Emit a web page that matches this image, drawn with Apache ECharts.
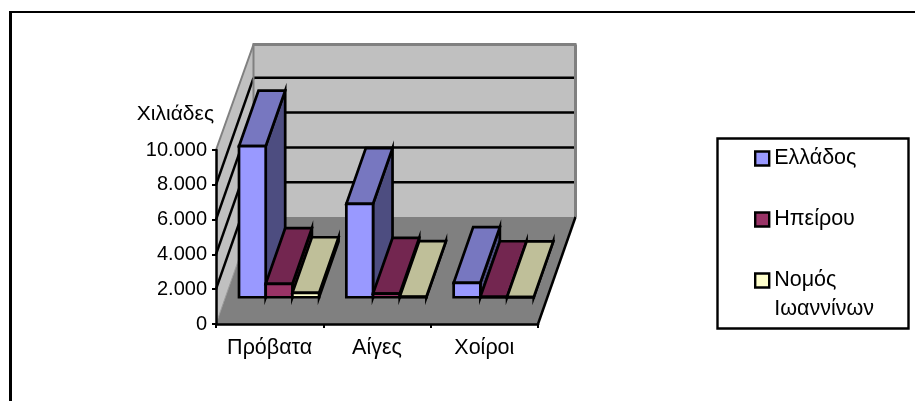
<!DOCTYPE html>
<html>
<head>
<meta charset="utf-8">
<style>html,body{margin:0;padding:0;background:#fff}#c{width:915px;height:401px}</style>
<script src="https://cdn.jsdelivr.net/npm/echarts@6/dist/echarts.min.js"></script>
</head>
<body>
<div id="c"></div>
<script>
const categories = ['Πρόβατα', 'Αίγες', 'Χοίροι'];
const seriesNames = ['Ελλάδος', 'Ηπείρου', 'Νομός Ιωαννίνων'];
const ellados = [8680, 5370, 830];
const ipeirou = [770, 210, 20];
const ioannina = [250, 30, 10];
const yTicks = [0, 2000, 4000, 6000, 8000, 10000];
const yTitle = 'Χιλιάδες';

const FONT = '"Liberation Sans", Arial, sans-serif';
const frontColors = ['#9999ff', '#993366', '#ffffcc'];
const topColors = ['#7777c0', '#732650', '#bfbf99'];
const sideColors = ['#4d4d80', '#4d1a33', '#808066'];
const DX = 37.5, DY = 107;
const barCount = 3, catGap = 0.127, barFrontDepth = 0.25, barDepth = 0.52;

const chart = echarts.init(document.getElementById('c'), null, {renderer: 'canvas'});

function poly(points, fill, stroke, lw) {
  return {type: 'polygon', shape: {points},
    style: {fill: fill || 'none', stroke: stroke || 'none', lineWidth: lw || 0, lineJoin: 'miter'}};
}
function line(a, b, stroke, lw) {
  return {type: 'line', shape: {x1: a[0], y1: a[1], x2: b[0], y2: b[1]},
    style: {stroke, lineWidth: lw}};
}

// walls, floor and gridlines
function renderBox(params, api) {
  const o = api.coord([0, 0]);
  const step = api.size([1, 0])[0];
  const left = o[0] - step / 2, base = o[1];
  const right = left + step * categories.length;
  const topY = api.coord([0, yTicks[yTicks.length - 1]])[1];
  const wallTop = topY - DY + 1.5;
  const kids = [];
  kids.push(poly([[left, base], [left + DX, base - DY], [left + DX, wallTop], [left, topY]], '#c0c0c0'));
  kids.push(poly([[left + DX, base - DY], [right + DX, base - DY], [right + DX, wallTop], [left + DX, wallTop]], '#c0c0c0'));
  yTicks.slice(1, -1).forEach(t => {
    const y = api.coord([0, t])[1];
    kids.push(line([left, y], [left + DX, y - DY], '#000', 2.5));
    kids.push(line([left + DX, y - DY], [right + DX, y - DY], '#000', 2.5));
  });
  kids.push(line([left, topY], [left + DX, wallTop], '#808080', 2));
  kids.push(line([left + DX - 1, wallTop], [right + DX + 1, wallTop], '#808080', 3));
  kids.push(line([right + DX, wallTop], [right + DX, base - DY], '#808080', 3));
  kids.push(line([left + DX, wallTop], [left + DX, base - DY], '#808080', 2));
  kids.push(poly([[left, base], [right, base], [right + DX, base - DY], [left + DX, base - DY]], '#808080'));
  kids.push(line([left, base], [left + DX, base - DY], '#9a9a9a', 1));
  kids.push(line([right, base], [right + DX, base - DY], '#000', 2.5));
  return {type: 'group', children: kids};
}

function renderBar(sIdx) {
  return function (params, api) {
    const c = api.value(0), v = api.value(1);
    const step = api.size([1, 0])[0];
    const catLeft = api.coord([c, 0])[0] - step / 2;
    const base = api.coord([c, 0])[1];
    const bw = step * (1 - 2 * catGap) / barCount;
    const fdx = DX * barFrontDepth, fdy = DY * barFrontDepth;
    const x0 = catLeft + step * catGap + bw * sIdx + fdx;
    const x1 = x0 + bw;
    const y0 = base - fdy;
    const y1 = api.coord([c, v])[1] - fdy;
    const dx = DX * barDepth, dy = DY * barDepth;
    return {type: 'group', children: [
      poly([[x1, y0], [x1 + dx, y0 - dy], [x1 + dx, y1 - dy], [x1, y1]], sideColors[sIdx], '#000', 2.7),
      poly([[x0, y1], [x1, y1], [x1 + dx, y1 - dy], [x0 + dx, y1 - dy]], topColors[sIdx], '#000', 2.7),
      poly([[x0, y0], [x1, y0], [x1, y1], [x0, y1]], frontColors[sIdx], '#000', 2.7)
    ]};
  };
}

function makeBarSeries(name, values, sIdx) {
  return {
    name, type: 'custom', coordinateSystem: 'cartesian2d', clip: false,
    renderItem: renderBar(sIdx), encode: {x: 0, y: 1}, z: 5 + sIdx,
    itemStyle: {color: frontColors[sIdx], borderColor: '#000', borderWidth: 2},
    data: values.map((v, i) => [i, v])
  };
}

chart.setOption({
  animation: false,
  backgroundColor: '#fff',
  textStyle: {fontFamily: FONT},
  graphic: [
    {type: 'line', z: -10, silent: true, shape: {x1: 9, y1: 12, x2: 915, y2: 12},
      style: {stroke: '#000', lineWidth: 2}},
    {type: 'line', z: -10, silent: true, shape: {x1: 10.5, y1: 11, x2: 10.5, y2: 401},
      style: {stroke: '#000', lineWidth: 3}},
    {type: 'rect', z: 1, silent: true, shape: {x: 717.5, y: 138.5, width: 191, height: 190},
      style: {fill: '#fff', stroke: '#000', lineWidth: 2.4}}
  ],
  grid: {left: 216, right: 377, top: 150, bottom: 77, containLabel: false},
  xAxis: {
    type: 'category', data: categories, boundaryGap: true, z: 20,
    axisLine: {show: true, onZero: false, lineStyle: {color: '#000', width: 2.5}},
    axisTick: {show: true, alignWithLabel: false, length: 4, lineStyle: {color: '#000', width: 2}},
    axisLabel: {color: '#000', fontSize: 21.5, fontFamily: FONT, margin: 13, interval: 0, hideOverlap: false},
    splitLine: {show: false}
  },
  yAxis: {
    type: 'value', min: 0, max: 10000, interval: 2000, z: 20,
    name: yTitle, nameLocation: 'end', nameGap: 25,
    nameTextStyle: {color: '#000', fontSize: 21, fontFamily: FONT, align: 'right', padding: [0, 2, 0, 0]},
    axisLine: {show: true, lineStyle: {color: '#000', width: 2.5}},
    axisTick: {show: true, length: 4, lineStyle: {color: '#000', width: 2}},
    axisLabel: {color: '#000', fontSize: 20, fontFamily: FONT, margin: 9,
      formatter: v => String(v).replace(/\B(?=(\d{3})+$)/g, '.')},
    splitLine: {show: false}
  },
  legend: {
    show: true, orient: 'vertical', left: 754, top: 115, padding: 0, itemGap: -26,
    itemWidth: 14, itemHeight: 14, icon: 'rect', selectedMode: false, z: 30,
    data: seriesNames,
    formatter: n => { const p = n.split(' '); return '\n' + p[0] + '\n' + (p[1] || ''); },
    textStyle: {color: '#000', fontSize: 21.5, fontFamily: FONT, lineHeight: 29, padding: [0, 0, 0, 0]},
    itemStyle: {borderColor: '#000', borderWidth: 2.4}
  },
  series: [
    {type: 'custom', coordinateSystem: 'cartesian2d', clip: false, silent: true, z: 1,
      renderItem: renderBox, encode: {x: 0, y: 1}, data: [[0, 0]]},
    makeBarSeries(seriesNames[0], ellados, 0),
    makeBarSeries(seriesNames[1], ipeirou, 1),
    makeBarSeries(seriesNames[2], ioannina, 2)
  ]
});
</script>
</body>
</html>
